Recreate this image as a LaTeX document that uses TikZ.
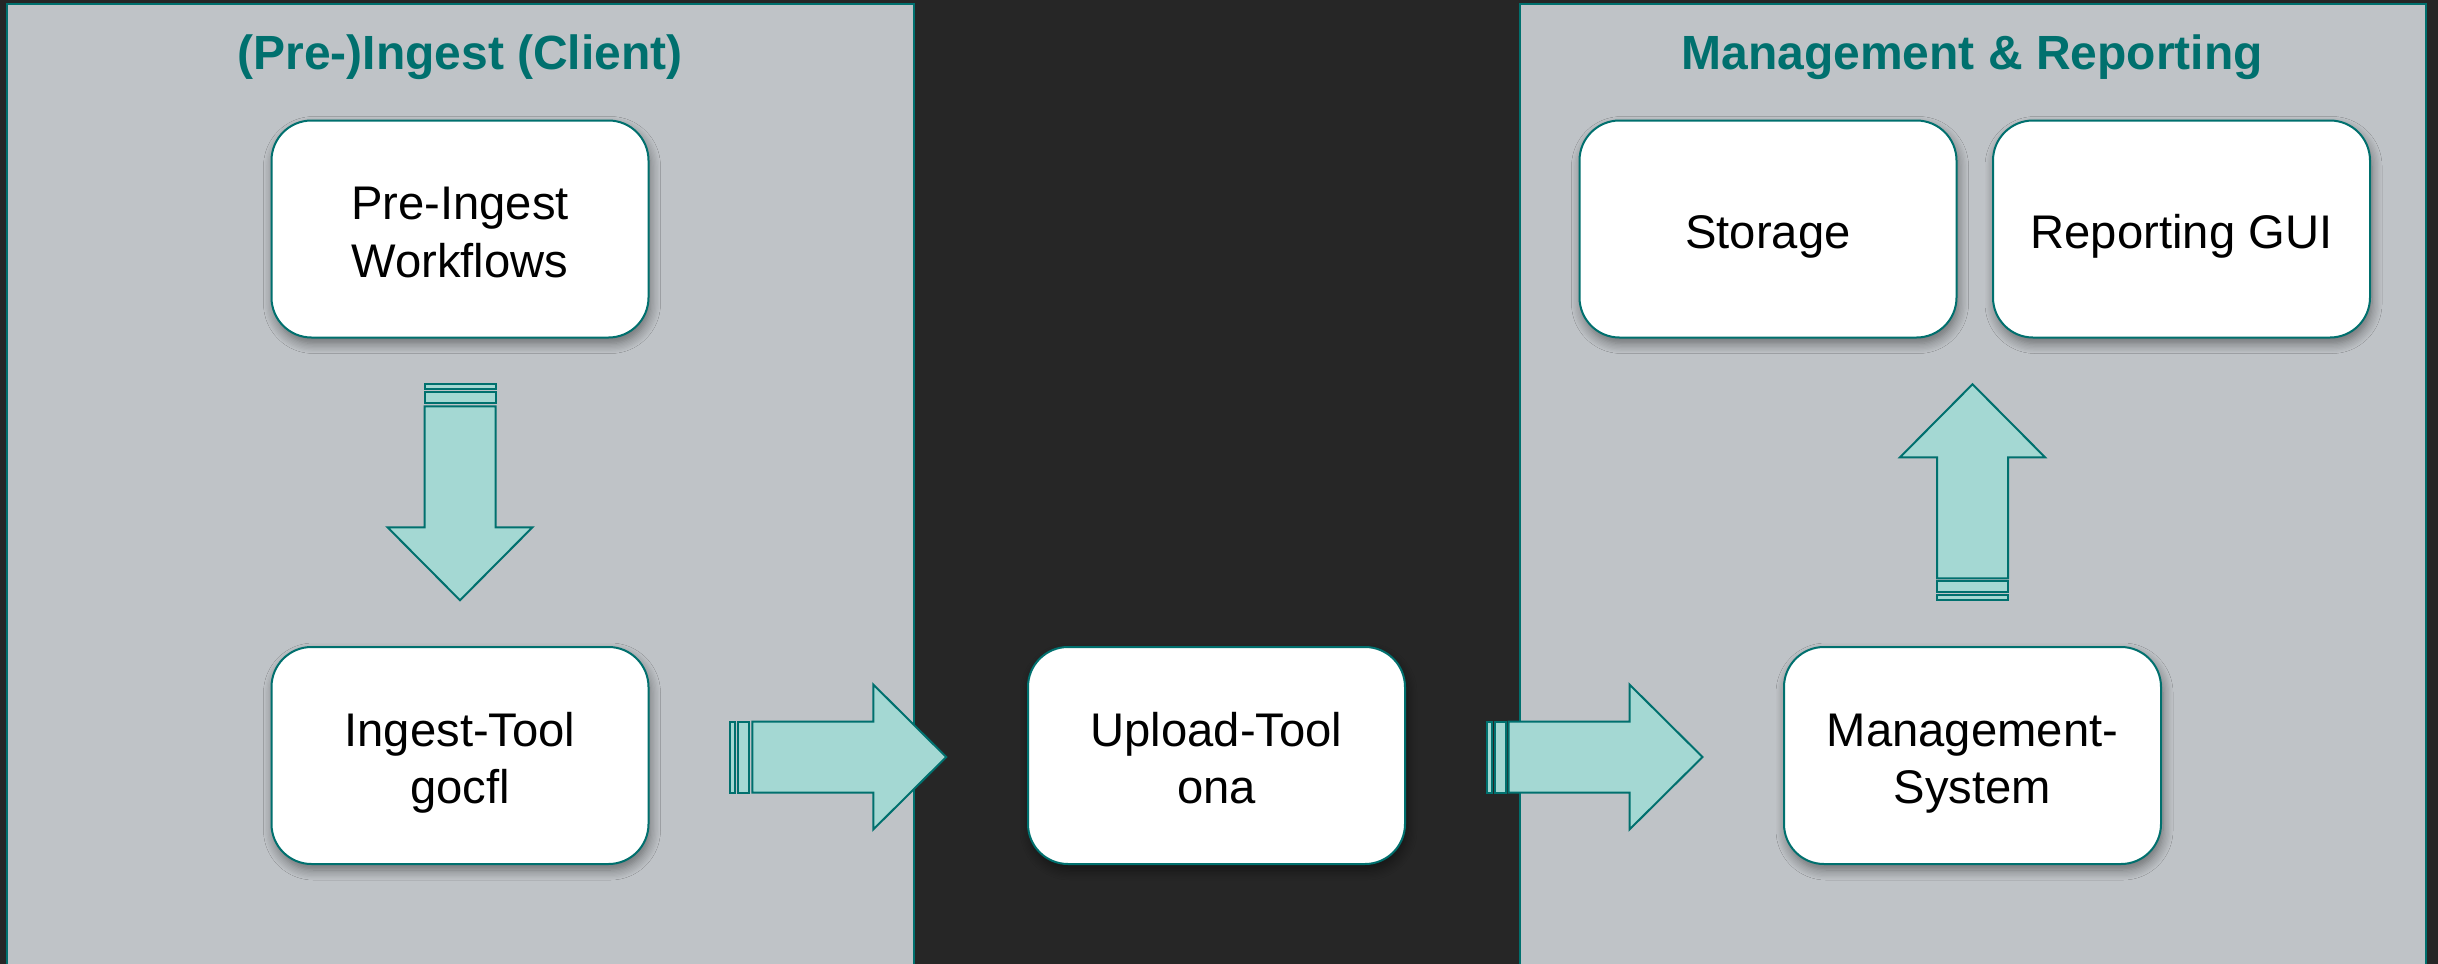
\documentclass[tikz,border=0pt]{standalone}
\usepackage{fontspec}
\setmainfont{Liberation Sans}
\usetikzlibrary{calc,shadows.blur}
\definecolor{bgdark}{RGB}{38,38,38}
\definecolor{panelgray}{RGB}{191,195,199}
\definecolor{tealc}{RGB}{0,112,110}
\definecolor{arrowfill}{RGB}{164,216,211}
\newcommand{\topstrut}{\rule{0pt}{24.4pt}}
\newcommand{\botstrut}{\rule[-5pt]{0pt}{5pt}}
\tikzset{
  panel/.style={fill=panelgray, draw=tealc, line width=1.2pt},
  title/.style={text=tealc, font=\fontsize{24}{28}\selectfont\bfseries},
  box/.style={draw=tealc, fill=white, line width=1pt, rounded corners=20pt,
    minimum width=188.5pt, minimum height=108.5pt, align=center,
    font=\fontsize{23.6}{28.6}\selectfont,
    blur shadow={shadow xshift=1pt, shadow yshift=-3pt, shadow blur steps=8, shadow opacity=45, shadow blur radius=5pt}},
  arrowstyle/.style={draw=tealc, fill=arrowfill, line width=1pt, line join=miter},
  blockarrow/.pic={
    \draw[arrowstyle] (-108,-35.5) rectangle (-103,35.5);
    \draw[arrowstyle] (-100,-35.5) rectangle (-89,35.5);
    \draw[arrowstyle] (-86,-35.5) -- (35,-35.5) -- (35,-72.5) -- (108,0)
      -- (35,72.5) -- (35,35.5) -- (-86,35.5) -- cycle;
  }
}
\begin{document}
\begin{tikzpicture}[x=0.5pt,y=-0.5pt]
\useasboundingbox (0,0) rectangle (2438,964);
\clip (0,0) rectangle (2438,964);
\fill[bgdark] (0,0) rectangle (2438,964);
\draw[panel] (7,4) rectangle (914,980);
\draw[panel] (1520,4) rectangle (2426,980);
\node[title] (t1) at (460,57) {(Pre-)Ingest (Client)};
\node[title] (t2) at (1972,57) {Management \& Reporting};

\node[box] (pre) at (460,229) {\topstrut Pre-Ingest\\Workflows\botstrut};
\node[box] (ingest) at (460,755.5) {\topstrut Ingest-Tool\\gocfl\botstrut};
\node[box] (upload) at (1216.5,755.5) {\topstrut Upload-Tool\\ona\botstrut};
\node[box] (mgmt) at (1972.5,755.5) {\topstrut Management-\\System\botstrut};
\node[box] (storage) at (1768,229) {\topstrut Storage\botstrut};
\node[box] (report) at (2181.5,229) {\topstrut Reporting GUI\botstrut};

\pic[rotate=-90] at ($(pre.south)!0.5!(ingest.north)$) {blockarrow};
\pic at ($(ingest.east)!0.5!(upload.west)+(0,1.5)$) {blockarrow};
\pic at ($(upload.east)!0.5!(mgmt.west)+(0,1.5)$) {blockarrow};
\pic[rotate=90] at ($(mgmt.north)!0.5!(mgmt.north |- storage.south)$) {blockarrow};
\end{tikzpicture}
\end{document}
